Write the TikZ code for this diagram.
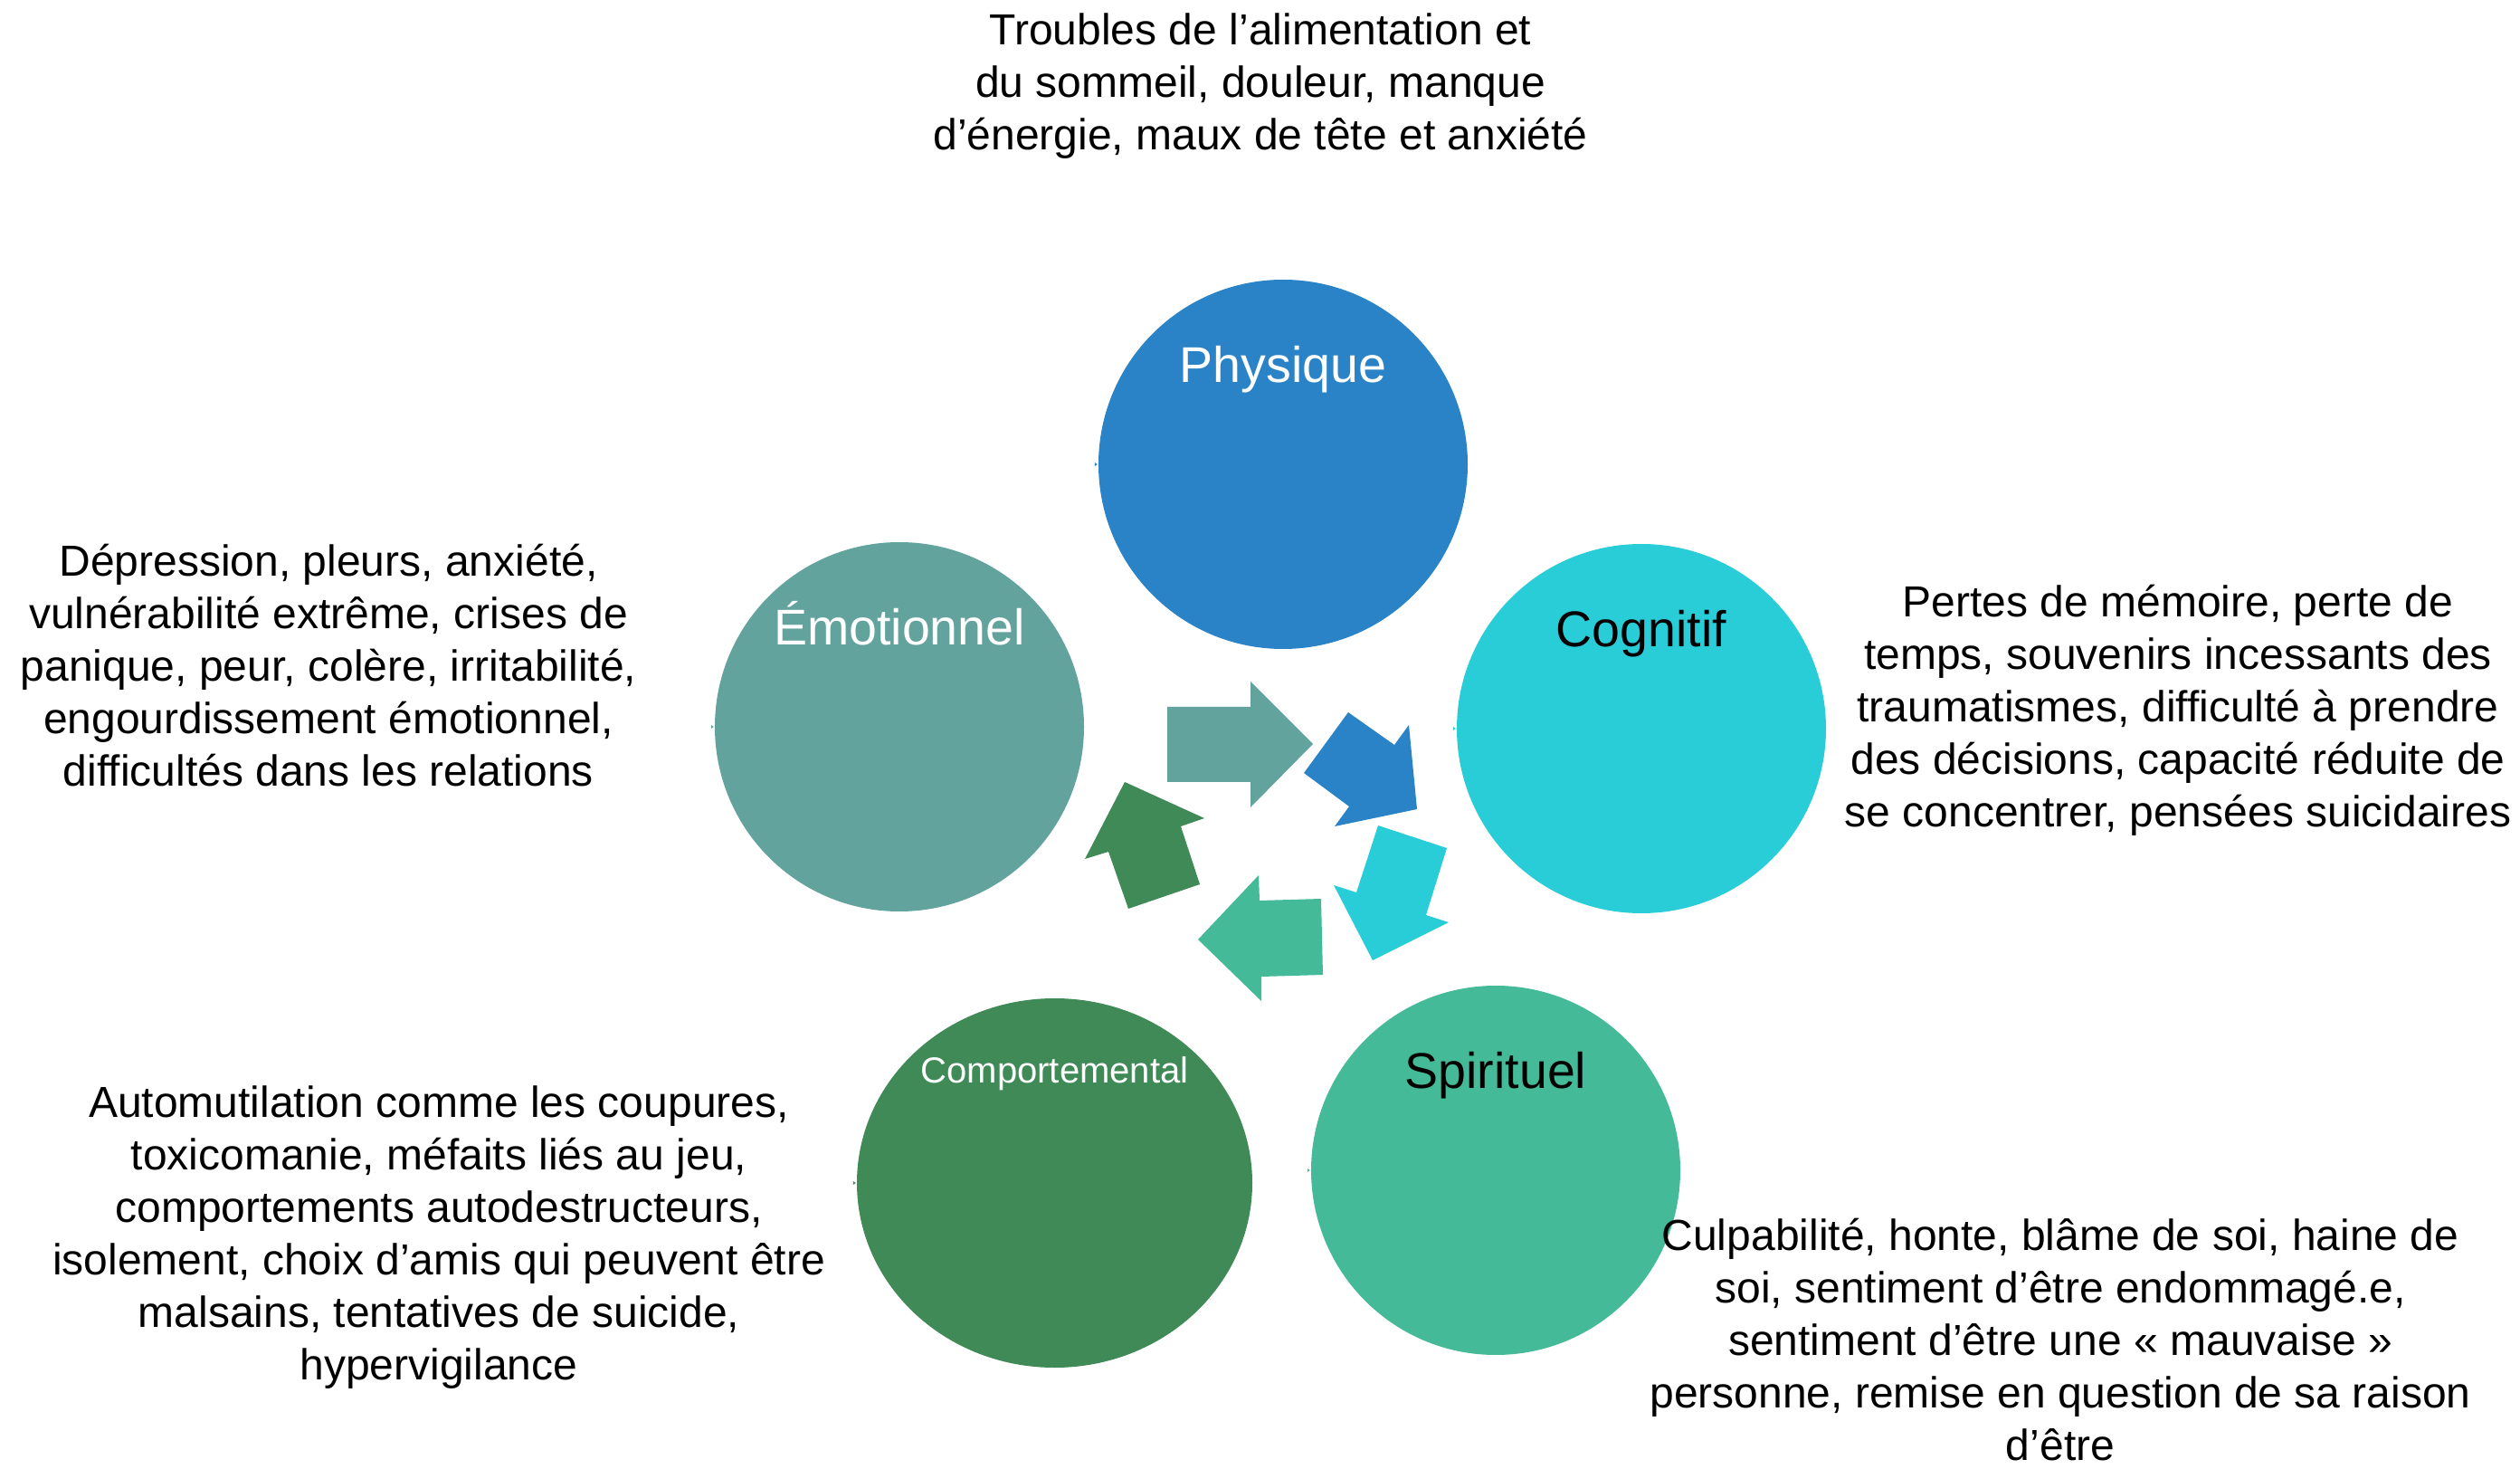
\documentclass[tikz,border=0pt]{standalone}
\usepackage{fontspec}
\setmainfont{Liberation Sans}
\usepackage{xcolor}
\definecolor{PHYcolor}{HTML}{2983C6}
\definecolor{EMOcolor}{HTML}{63A39E}
\definecolor{COGcolor}{HTML}{29CDD8}
\definecolor{SPIcolor}{HTML}{44BA98}
\definecolor{COMcolor}{HTML}{3F8A56}
\usepackage{tikz}
\usetikzlibrary{shapes.geometric}

\begin{document}
\begin{tikzpicture}
    \tikzset{%
        blob/.style={circle, minimum size=4.08cm, inner sep=0pt, fill=#1},
        circlabel/.style={anchor=base, font=\fontsize{15.8pt}{19pt}\selectfont},
        desc/.style={align=center, inner sep=0pt, font=\fontsize{13.66pt}{16.5pt}\selectfont},
        flow/.style={fill=#1},
    }
    \useasboundingbox (0, 0) rectangle (27.85, -16.23);

    % circles
    \node [blob=PHYcolor] (phys) at (14.18, -5.13) {};
    \node [blob=COGcolor] (cog) at (18.14, -8.05) {};
    \node [blob=SPIcolor] (spir) at (16.53, -12.93) {};
    \node [ellipse, minimum width=4.37cm, minimum height=4.08cm, inner sep=0pt, fill=COMcolor] (comp) at (11.655, -13.07) {};
    \node [blob=EMOcolor] (emo) at (9.94, -8.03) {};

    \foreach \n/\c in {phys/PHYcolor, cog/COGcolor, spir/SPIcolor, comp/COMcolor, emo/EMOcolor} {%
            \fill [\c] (\n.west) ++(-0.035, 0.02) -- ++(0.03, -0.02) -- ++(-0.03, -0.02) -- cycle;
        }

    \node [circlabel, white] (physlbl) at ([yshift=0.905cm]phys.center) {Physique};
    \node [circlabel] (coglbl) at ([yshift=0.905cm]cog.center) {Cognitif};
    \node [circlabel] (spirlbl) at ([yshift=0.905cm]spir.center) {Spirituel};
    \node [circlabel, white, font=\fontsize{11.4pt}{14pt}\selectfont] (complbl) at ([yshift=1.11cm]comp.center) {Comportemental};
    \node [circlabel, white] (emolbl) at ([yshift=0.905cm]emo.center) {Émotionnel};

    % arrows between
    \fill [flow=EMOcolor] (12.90, -7.81) -- (13.82, -7.81) -- (13.82, -7.53) -- (14.51, -8.22) -- (13.82, -8.92) -- (13.82, -8.64) -- (12.90, -8.64) -- cycle;
    \fill [flow=PHYcolor] (14.90, -7.87) -- (15.41, -8.23) -- (15.57, -8.01) -- (15.66, -8.94) -- (14.75, -9.13) -- (14.91, -8.91) -- (14.41, -8.54) -- cycle;
    \fill [flow=COGcolor] (15.23, -9.12) -- (15.99, -9.37) -- (15.76, -10.11) -- (16.01, -10.19) -- (15.17, -10.61) -- (14.74, -9.78) -- (14.99, -9.86) -- cycle;
    \fill [flow=SPIcolor] (14.60, -9.93) -- (14.62, -10.77) -- (13.94, -10.79) -- (13.94, -11.06) -- (13.24, -10.38) -- (13.91, -9.67) -- (13.92, -9.95) -- cycle;
    \fill [flow=COMcolor] (12.43, -8.64) -- (13.31, -9.04) -- (13.05, -9.13) -- (13.26, -9.77) -- (12.47, -10.04) -- (12.25, -9.41) -- (11.99, -9.49) -- cycle;

    % texts
    \node [desc] (physdesc) at (13.93, -0.95) {Troubles de l’alimentation et\\du sommeil, douleur, manque\\d’énergie, maux de tête et anxiété};
    \node [desc] (emodesc) at (3.63, -7.35) {Dépression, pleurs, anxiété,\\vulnérabilité extrême, crises de\\panique, peur, colère, irritabilité,\\engourdissement émotionnel,\\difficultés dans les relations};
    \node [desc] (cogdesc) at (24.07, -7.85) {Pertes de mémoire, perte de\\temps, souvenirs incessants des\\traumatismes, difficulté à prendre\\des décisions, capacité réduite de\\se concentrer, pensées suicidaires};
    \node [desc] (compdesc) at (4.85, -13.67) {Automutilation comme les coupures,\\toxicomanie, méfaits liés au jeu,\\comportements autodestructeurs,\\isolement, choix d’amis qui peuvent être\\malsains, tentatives de suicide,\\hypervigilance};
    \node [desc] (spirdesc) at (22.77, -14.80) {Culpabilité, honte, blâme de soi, haine de\\soi, sentiment d’être endommagé.e,\\sentiment d’être une « mauvaise »\\personne, remise en question de sa raison\\d’être};
\end{tikzpicture}
\end{document}
